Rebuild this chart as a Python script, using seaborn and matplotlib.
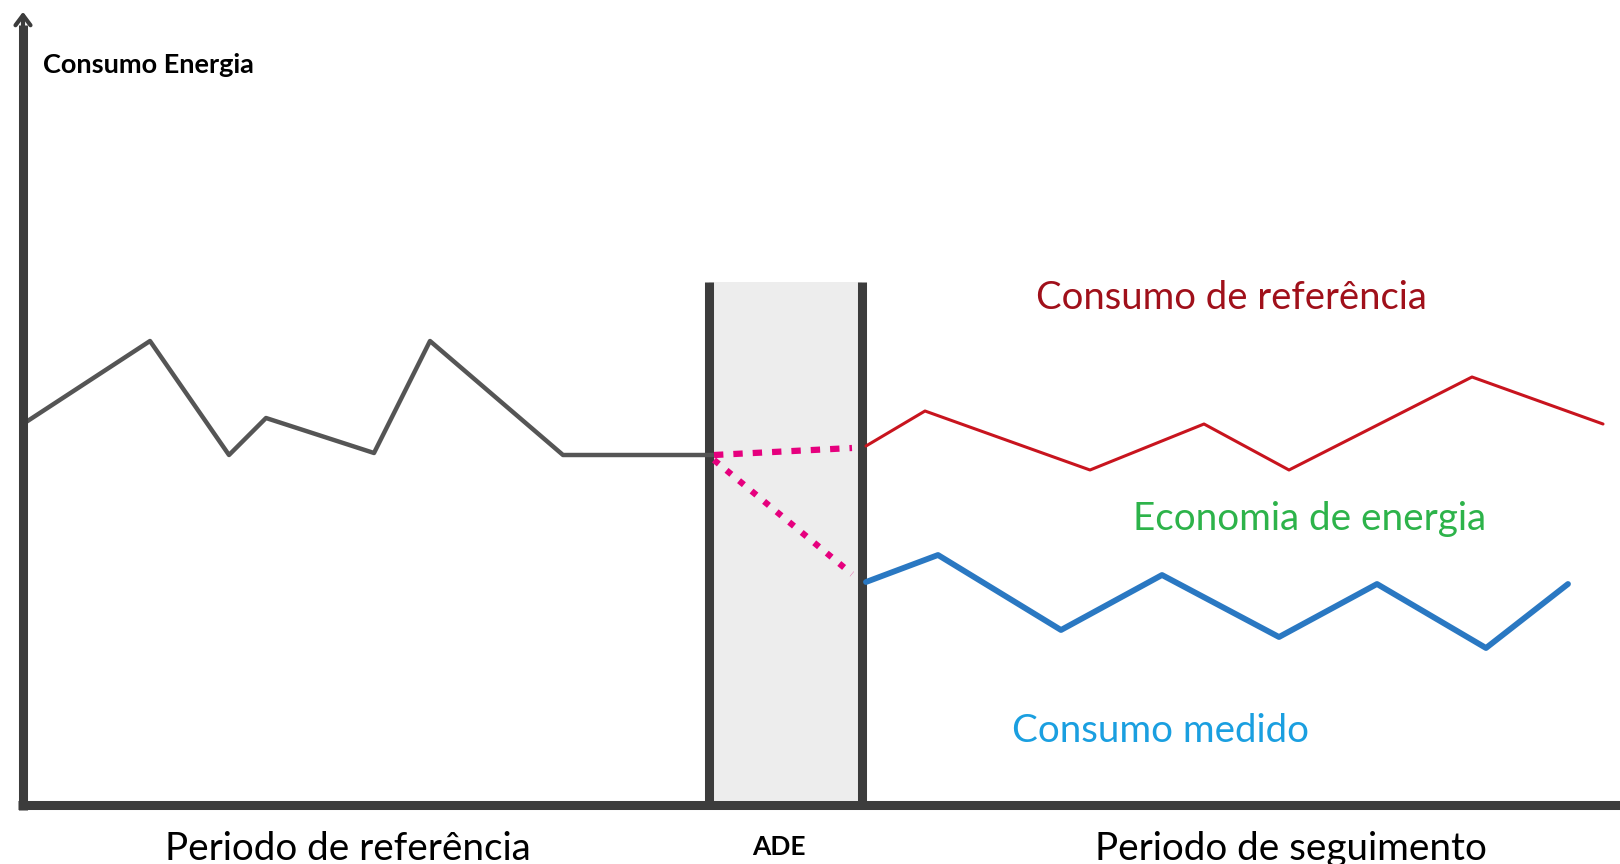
import matplotlib
matplotlib.use("Agg")
import matplotlib.pyplot as plt
import seaborn as sns

# -------------------- Data --------------------
# periodo de referencia (x: tempo, y: consumo)
ref_x = [0, 12.7, 20.6, 24.3, 35.1, 40.7, 54.0, 69.0]
ref_y = [38.1, 46.4, 35.0, 38.7, 35.2, 46.4, 35.0, 35.0]

# transicao durante ADE
ade_top_x = [69.1, 82.9]
ade_top_y = [35.0, 35.7]
ade_bot_x = [69.1, 82.9]
ade_bot_y = [34.5, 23.1]

# consumo de referencia ajustado (periodo de seguimento)
base_x = [84.3, 90.2, 106.7, 118.1, 126.6, 144.9, 158.0]
base_y = [35.9, 39.4, 33.5, 38.1, 33.5, 42.8, 38.1]

# consumo medido
med_x = [84.3, 91.5, 103.8, 113.9, 125.6, 135.4, 146.3, 154.5]
med_y = [22.3, 25.0, 17.5, 23.0, 16.8, 22.1, 15.7, 22.1]

# janela ADE
ade_start, ade_end, ade_top = 68.6, 83.9, 52.3

# -------------------- Plot --------------------
sns.set_theme(style="white")
plt.rcParams["font.family"] = ["Lato", "DejaVu Sans"]

fig = plt.figure(figsize=(16.2, 8.64), dpi=100)
ax = fig.add_axes([0, 0, 1, 1])
ax.set_xlim(-2.3, 159.7)
ax.set_ylim(-5.9, 80.5)
ax.axis("off")

axis_col = "#3c3c3c"

# ADE box
ax.fill_between([ade_start, ade_end], 0, ade_top, color="#ededed", zorder=1, lw=0)
for xb in (ade_start, ade_end):
    ax.plot([xb, xb], [0, ade_top], color=axis_col, lw=6.5, zorder=3,
            solid_capstyle="butt")

# series
sns.lineplot(x=ref_x, y=ref_y, ax=ax, color="#555555", lw=3.2, sort=False, zorder=4)
sns.lineplot(x=base_x, y=base_y, ax=ax, color="#c8141e", lw=2.2, sort=False, zorder=4)
sns.lineplot(x=med_x, y=med_y, ax=ax, color="#2a78c2", lw=4.2, sort=False, zorder=4)
ax.plot(ade_top_x, ade_top_y, color="#e6007e", lw=4.5, ls=(0, (1.5, 1.6)), zorder=4)
ax.plot(ade_bot_x, ade_bot_y, color="#e6007e", lw=4.5, ls=(0, (1.0, 1.6)), zorder=4)

# axes with arrows
ax.plot([0, 0], [-0.45, 78.0], color=axis_col, lw=6.5, solid_capstyle="butt", zorder=5)
ax.plot([-0.45, 159.7], [0, 0], color=axis_col, lw=6.5, solid_capstyle="butt", zorder=5)
ax.annotate("", xy=(0, 79.6), xytext=(0, 76.5),
            arrowprops=dict(arrowstyle="->,head_length=0.6,head_width=0.45",
                            color=axis_col, lw=3))
ax.annotate("", xy=(160.5, 0), xytext=(157.5, 0),
            arrowprops=dict(arrowstyle="->,head_length=0.6,head_width=0.45",
                            color=axis_col, lw=3))

# labels
ax.text(2.0, 74.0, "Consumo Energia", fontsize=19.5, color="black",
        fontweight="bold", ha="left", va="center")
ax.text(101.3, 50.7, "Consumo de referência", fontsize=27.5, color="#a0101a",
        ha="left", va="center")
ax.text(111.0, 28.6, "Economia de energia", fontsize=27.8, color="#2db34a",
        ha="left", va="center")
ax.text(98.9, 7.4, "Consumo medido", fontsize=27.7, color="#1a9fe0",
        ha="left", va="center")
ax.text(14.2, -4.4, "Periodo de referência", fontsize=27.8, color="black",
        ha="left", va="center")
ax.text(75.6, -4.2, "ADE", fontsize=19, color="black", fontweight="bold",
        ha="center", va="center")
ax.text(107.2, -4.4, "Periodo de seguimento", fontsize=27.8, color="black",
        ha="left", va="center")

fig.savefig("out.png", dpi=100)
